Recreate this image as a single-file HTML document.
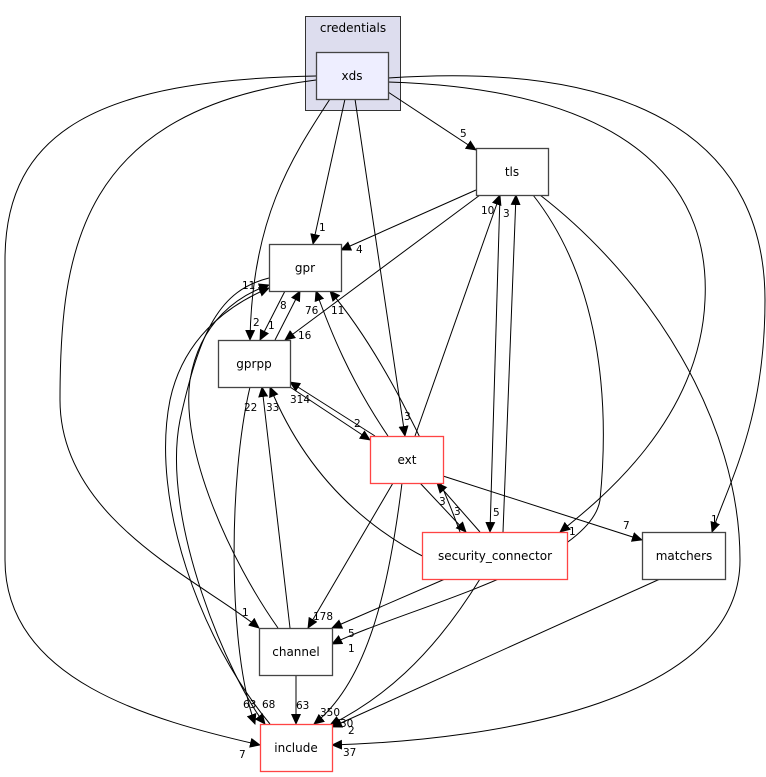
<!DOCTYPE html>
<html><head><meta charset="utf-8"><style>
html,body{margin:0;padding:0;background:#fff;}
svg{display:block;font-family:"DejaVu Sans","Liberation Sans",sans-serif;}
.e{fill:none;stroke:#000;stroke-width:1;marker-end:url(#a);}
.l{font-size:10.5px;fill:#000;}
.n{font-size:12px;fill:#000;text-anchor:middle;}
</style></head><body>
<svg width="766" height="777" viewBox="0 0 766 777" xmlns="http://www.w3.org/2000/svg">
<defs><marker id="a" markerWidth="11" markerHeight="10" refX="10" refY="5" orient="auto" markerUnits="userSpaceOnUse"><path d="M0,0 L11,5 L0,10 z" fill="#000"/></marker></defs>
<rect x="305.5" y="16.5" width="95" height="94" fill="#ddddee" stroke="#333"/>
<text class="n" x="353" y="32">credentials</text>

<path class="e" d="M388,92 L476,150"/><text class="l" x="460" y="137">5</text>
<path class="e" d="M345,99 L313,244"/><text class="l" x="319" y="231">1</text>
<path class="e" d="M330,99 C290,160 252,220 250,340"/><text class="l" x="253" y="326">2</text>
<path class="e" d="M355,99 L405,436"/><text class="l" x="404" y="420">3</text>
<path class="e" d="M388,82 C650,90 710,200 705,300 C700,420 600,500 560,532"/><text class="l" x="569" y="535">1</text>
<path class="e" d="M388,78 C650,60 765,150 765,300 C765,420 730,480 712,532"/><text class="l" x="711" y="523">1</text>
<path class="e" d="M316,80 C80,110 60,250 60,400 C60,520 200,580 259,628"/><text class="l" x="242" y="616">1</text>
<path class="e" d="M316,76 C100,80 5,130 5,260 L5,560 C5,680 150,720 260,745"/><text class="l" x="239" y="758">7</text>
<path class="e" d="M476,190 L341,250"/><text class="l" x="356" y="253">4</text>
<path class="e" d="M480,195 L285,340"/><text class="l" x="298" y="339">16</text>
<path class="e" d="M533,195 C600,280 610,400 600,500 C590,565 400,610 332,644"/><text class="l" x="348" y="652">1</text>
<path class="e" d="M540,195 C650,280 740,420 740,560 C740,700 500,740 332,745"/><text class="l" x="343" y="756">37</text>
<path class="e" d="M500,195 L490,532"/><text class="l" x="493" y="516">5</text>
<path class="e" d="M285,291 L260,340"/><text class="l" x="268" y="329">1</text>
<path class="e" d="M275,340 L300,291"/><text class="l" x="280" y="309">8</text>
<path class="e" d="M269,278 C220,290 200,330 180,420 C160,520 230,680 265,724"/><text class="l" x="262" y="708">68</text>
<path class="e" d="M250,387 C228,480 228,650 255,724"/><text class="l" x="243" y="708">63</text>
<path class="e" d="M278,628 C230,560 180,450 190,380 C200,320 240,295 269,285"/><text class="l" x="242" y="289">11</text>
<path class="e" d="M270,724 C200,640 150,500 170,400 C185,330 240,300 269,288"/>
<path class="e" d="M375,436 L290,382"/><text class="l" x="290" y="403">314</text>
<path class="e" d="M290,387 L370,440"/><text class="l" x="354" y="427">2</text>
<path class="e" d="M388,436 C350,380 330,330 316,291"/><text class="l" x="305" y="314">76</text>
<path class="e" d="M460,532 C430,450 380,350 330,291"/><text class="l" x="331" y="314">11</text>
<path class="e" d="M415,436 L500,195"/><text class="l" x="481" y="214">10</text>
<path class="e" d="M503,532 L516,195"/><text class="l" x="503" y="217">3</text>
<path class="e" d="M420,483 L466,532"/><text class="l" x="454" y="515">3</text>
<path class="e" d="M480,532 L437,483"/><text class="l" x="439" y="505">3</text>
<path class="e" d="M443,476 L642,540"/><text class="l" x="623" y="529">7</text>
<path class="e" d="M393,483 L308,628"/><text class="l" x="313" y="620">178</text>
<path class="e" d="M402,483 C390,580 370,680 314,724"/><text class="l" x="320" y="716">350</text>
<path class="e" d="M445,579 L332,628"/><text class="l" x="348" y="637">5</text>
<path class="e" d="M480,579 C430,660 380,700 330,725"/><text class="l" x="340" y="727">30</text>
<path class="e" d="M660,579 L332,727"/><text class="l" x="348" y="734">2</text>
<path class="e" d="M430,560 C350,520 300,460 270,387"/><text class="l" x="266" y="411">33</text>
<path class="e" d="M296,675 L296,724"/><text class="l" x="296" y="709">63</text>
<path class="e" d="M290,628 L262,387"/><text class="l" x="244" y="411">22</text>

<g stroke-width="1.3">
<rect x="316.5" y="52.5" width="72" height="47" fill="#eeeeff" stroke="#444"/><text class="n" x="352" y="80">xds</text>
<rect x="476.5" y="148.5" width="72" height="47" fill="#fff" stroke="#444"/><text class="n" x="512" y="176">tls</text>
<rect x="269.5" y="244.5" width="72" height="47" fill="#fff" stroke="#444"/><text class="n" x="305" y="272">gpr</text>
<rect x="218.5" y="340.5" width="72" height="47" fill="#fff" stroke="#444"/><text class="n" x="254" y="368">gprpp</text>
<rect x="370.5" y="436.5" width="73" height="47" fill="#fff" stroke="#ff4444"/><text class="n" x="407" y="464">ext</text>
<rect x="422.5" y="532.5" width="145" height="47" fill="#fff" stroke="#ff4444"/><text class="n" x="495" y="560">security_connector</text>
<rect x="642.5" y="532.5" width="83" height="47" fill="#fff" stroke="#444"/><text class="n" x="684" y="560">matchers</text>
<rect x="259.5" y="628.5" width="73" height="47" fill="#fff" stroke="#444"/><text class="n" x="296" y="656">channel</text>
<rect x="260.5" y="724.5" width="72" height="47" fill="#fff" stroke="#ff4444"/><text class="n" x="296" y="752">include</text>
</g>
</svg>
</body></html>
